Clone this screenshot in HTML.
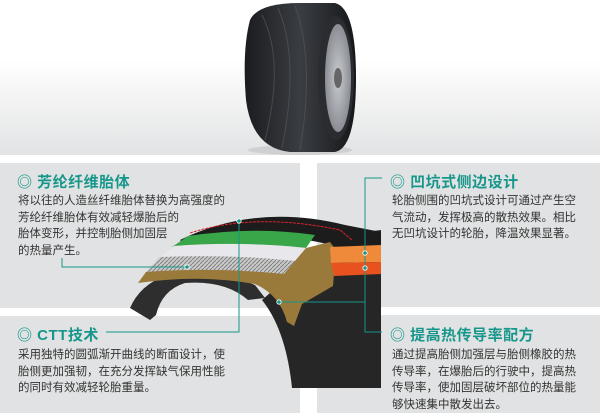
<!DOCTYPE html>
<html><head><meta charset="utf-8"><style>
body{margin:0;width:600px;height:413px;position:relative;overflow:hidden;background:#fff;font-family:"Liberation Sans","Noto Sans CJK SC",sans-serif}
.top{position:absolute;left:0;top:0;width:600px;height:155px;background:linear-gradient(#fff 0,#fff 60px,#e2e3e4 155px)}
.p{position:absolute;background:#e1e2e3}
.t{position:absolute;color:#17978b;font-size:15px;font-weight:bold;white-space:nowrap;letter-spacing:0.5px}
.b{position:absolute;color:#333;font-size:11.5px;line-height:16.6px;white-space:nowrap}
svg{position:absolute;left:0;top:0}
</style></head><body>
<div class="top"></div>
<div class="p" style="left:0;top:163px;width:300px;height:145px"></div>
<div class="p" style="left:0;top:316px;width:300px;height:97px"></div>
<div class="p" style="left:317px;top:163px;width:283px;height:144px"></div>
<div class="p" style="left:317px;top:315px;width:283px;height:98px"></div>
<svg width="600" height="413" viewBox="0 0 600 413">
<defs>
<pattern id="h" width="4" height="4" patternUnits="userSpaceOnUse"><rect width="4" height="4" fill="#c8c8c8"/><path d="M0,4 L4,0" stroke="#777" stroke-width="0.8"/></pattern>
<linearGradient id="tg" x1="0" x2="1"><stop offset="0" stop-color="#1a1c1f"/><stop offset="0.5" stop-color="#3a3d42"/><stop offset="1" stop-color="#15171a"/></linearGradient>
<radialGradient id="rim"><stop offset="0" stop-color="#c9ccd0"/><stop offset="1" stop-color="#8a8e94"/></radialGradient>
</defs>
<ellipse cx="300" cy="150" rx="52" ry="5" fill="#cfd0d2"/>
<path d="M250,20 Q258,3 300,3 L335,3 Q356,8 356,78 Q356,148 335,152 L290,152 Q252,148 246,100 Q242,50 250,20Z" fill="url(#tg)"/>
<ellipse cx="336" cy="78" rx="18" ry="62" fill="#2a2c30"/>
<ellipse cx="338" cy="78" rx="13" ry="54" fill="url(#rim)"/>
<ellipse cx="338" cy="78" rx="4" ry="10" fill="#666"/>
<g stroke="#555" stroke-width="1" opacity="0.7" fill="none"><path d="M262,15 Q285,60 265,140"/><path d="M278,8 Q300,60 282,148"/><path d="M295,6 Q315,60 300,150"/></g>
<path d="M335,236 L381,230 L381,388 L292,388 Q286,330 262,300 Z" fill="#262626"/>
<path d="M130,308 Q140,285 165,276 Q215,268 255,285 L265,298 L248,300 Q225,280 185,283 Q162,290 156,315 L150,320 Z" fill="#2e2e2e"/>
<path d="M180,240 Q255,203 345,225 L381,232 L381,250 L335,246 Q260,226 190,250 Z" fill="#1c1c1c"/>
<path d="M190,233 Q255,212 340,230 L352,240" fill="none" stroke="#d8252d" stroke-width="1" stroke-dasharray="3,1"/>
<path d="M172,247 L188,236 Q255,226 315,235 L306,248 Q250,241 172,247 Z" fill="#3aa64a"/>
<path d="M160,258 L174,246 Q240,241 306,248 L296,262 Q230,254 160,258 Z" fill="#e8e8ec"/>
<path d="M145,273 L160,257 Q230,254 296,261 L284,275 Q215,268 145,273 Z" fill="url(#h)"/>
<path d="M138,283 L146,272 Q215,267 284,274 L306,248 L330,242 L336,250 L333,286 L302,304 L294,326 L287,322 Q280,295 255,284 Q200,274 138,283 Z" fill="#9a7a3a"/>
<path d="M330,247 L381,245 L381,262 L331,263 Z" fill="#ef8a3a"/>
<path d="M331,263 L381,262 L381,274 L334,276 Z" fill="#e8521e"/>
<g stroke="#17978b" stroke-width="1" fill="none">
<path d="M62,258 L62,267 L187,267"/>
<path d="M239,221 L239,332 L106,332"/>
<path d="M279,302 L365,302"/>
<path d="M382,178 L365,178 L365,332 L382,332"/>
</g>
<g fill="#17978b" stroke="#fff" stroke-width="0.8">
<circle cx="187" cy="267" r="2.2"/><circle cx="239" cy="221" r="2.2"/><circle cx="279" cy="302" r="2.2"/><circle cx="365" cy="253" r="2.2"/><circle cx="365" cy="268" r="2.2"/>
</g>
</svg>
<div class="t" style="left:17px;top:171px">◎ 芳纶纤维胎体</div>
<div class="b" style="left:18px;top:193px">将以往的人造丝纤维胎体替换为高强度的<br>芳纶纤维胎体有效减轻爆胎后的<br>胎体变形，并控制胎侧加固层<br>的热量产生。</div>
<div class="t" style="left:17px;top:324px">◎ CTT技术</div>
<div class="b" style="left:18px;top:347px">采用独特的圆弧渐开曲线的断面设计，使<br>胎侧更加强韧，在充分发挥缺气保用性能<br>的同时有效减轻轮胎重量。</div>
<div class="t" style="left:390px;top:171px">◎ 凹坑式侧边设计</div>
<div class="b" style="left:392px;top:193px">轮胎侧围的凹坑式设计可通过产生空<br>气流动，发挥极高的散热效果。相比<br>无凹坑设计的轮胎，降温效果显著。</div>
<div class="t" style="left:390px;top:324px">◎ 提高热传导率配方</div>
<div class="b" style="left:392px;top:347px">通过提高胎侧加强层与胎侧橡胶的热<br>传导率，在爆胎后的行驶中，提高热<br>传导率，使加固层破坏部位的热量能<br>够快速集中散发出去。</div>
</body></html>
